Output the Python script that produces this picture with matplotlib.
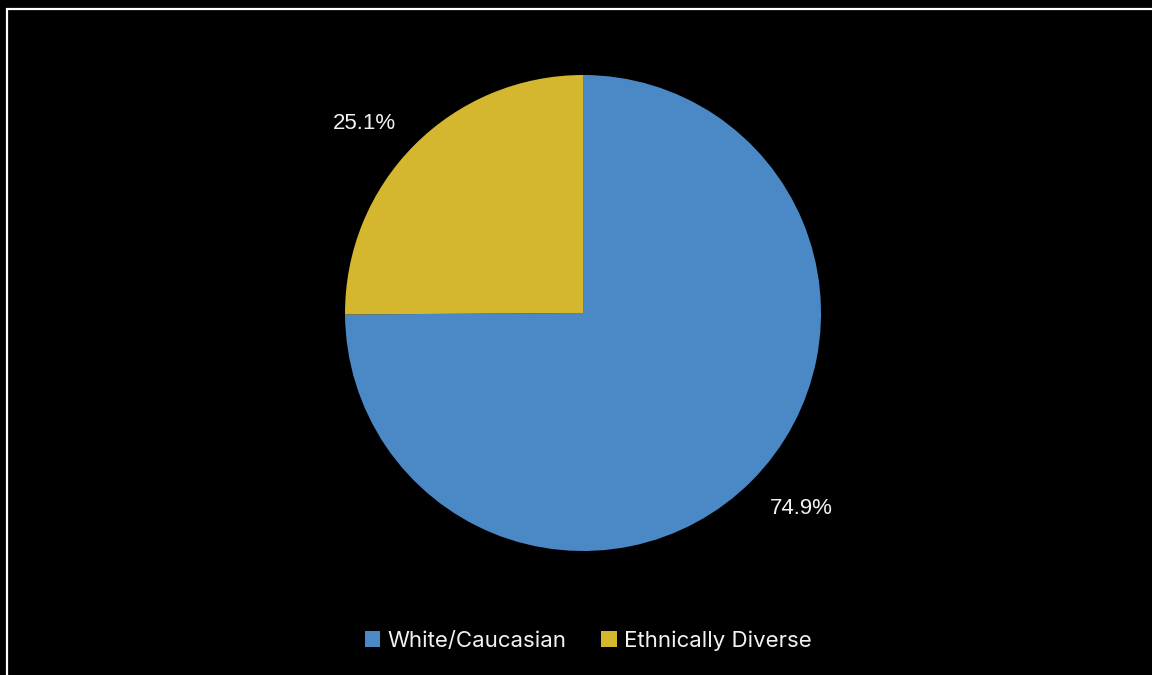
import numpy as np
import matplotlib.pyplot as plt
from matplotlib.patches import Rectangle

# Workforce composition
labels = ["White/Caucasian", "Ethnically Diverse"]
shares = [74.9, 25.1]
colors = ["#4a89c5", "#d4b62f"]

plt.rcParams['font.family'] = ['Liberation Sans', 'DejaVu Sans']

fig = plt.figure(figsize=(11.52, 6.75), dpi=100, facecolor="black")

# white frame, runs off the right and bottom edges
fig.patches.append(Rectangle((6.5 / 1152, -0.05), 1.1, (675 - 8.5) / 675 + 0.05,
                             transform=fig.transFigure, fill=False,
                             edgecolor="white", linewidth=1.6))

ax = fig.add_axes([0.2995, 0.1837, 0.4132, 0.7052])
ax.set_facecolor("black")
wedges, texts, autotexts = ax.pie(
    shares, colors=colors, startangle=90, counterclock=False,
    autopct="%.1f%%", pctdistance=1.225,
    wedgeprops=dict(linewidth=0),
    textprops=dict(color="#f2f2f2", fontsize=16))

# nudge the percentage labels a little toward the horizontal
for w, t in zip(wedges, autotexts):
    ang = np.deg2rad((w.theta1 + w.theta2) / 2 + 3.4)
    t.set_position((1.225 * np.cos(ang), 1.225 * np.sin(ang) - 0.013))

ax.set_xlim(-1, 1)
ax.set_ylim(-1, 1)
ax.set_aspect("equal")

fig.legend(wedges, labels, loc="center", bbox_to_anchor=(0.5105, 0.051),
           ncol=2, frameon=False, handlelength=0.7, handleheight=0.7,
           handletextpad=0.3, columnspacing=1.6,
           prop=dict(family="Inter", size=16), labelcolor="#f2f2f2")

fig.savefig("out.png", dpi=100, facecolor="black")
